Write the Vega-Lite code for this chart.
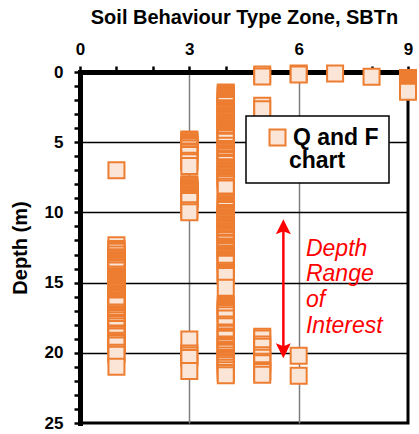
{
  "$schema": "https://vega.github.io/schema/vega-lite/v6.json",
  "width": 328,
  "height": 351,
  "autosize": {"type": "none"},
  "padding": {"left": 80, "top": 72, "right": 11, "bottom": 11},
  "background": "white",
  "config": {
    "view": {"stroke": "black", "strokeWidth": 3},
    "axis": {
      "labelFont": "Liberation Sans",
      "labelFontWeight": "bold",
      "labelFontSize": 17,
      "labelColor": "black",
      "titleFont": "Liberation Sans",
      "titleFontWeight": "bold",
      "titleFontSize": 20,
      "titleColor": "black",
      "domainColor": "black",
      "domainWidth": 5,
      "domainCap": "square",
      "tickColor": "black",
      "tickWidth": 2.5,
      "tickSize": 6,
      "labelFlush": false,
      "labelOverlap": false
    },
    "legend": {"strokeWidth": 1.5}
  },
  "datasets": {
    "qf": [
      {"sbtn": 1, "depth": 7.0},
      {"sbtn": 1, "depth": 12.34}, {"sbtn": 1, "depth": 12.6}, {"sbtn": 1, "depth": 12.7}, {"sbtn": 1, "depth": 12.8},
      {"sbtn": 1, "depth": 13.0}, {"sbtn": 1, "depth": 13.2}, {"sbtn": 1, "depth": 13.3}, {"sbtn": 1, "depth": 13.4},
      {"sbtn": 1, "depth": 13.5}, {"sbtn": 1, "depth": 13.6}, {"sbtn": 1, "depth": 13.7}, {"sbtn": 1, "depth": 13.8},
      {"sbtn": 1, "depth": 13.9}, {"sbtn": 1, "depth": 14.0}, {"sbtn": 1, "depth": 14.14}, {"sbtn": 1, "depth": 14.42},
      {"sbtn": 1, "depth": 14.55}, {"sbtn": 1, "depth": 14.65}, {"sbtn": 1, "depth": 14.75}, {"sbtn": 1, "depth": 14.85},
      {"sbtn": 1, "depth": 14.95}, {"sbtn": 1, "depth": 15.05}, {"sbtn": 1, "depth": 15.15}, {"sbtn": 1, "depth": 15.25},
      {"sbtn": 1, "depth": 15.35}, {"sbtn": 1, "depth": 15.45}, {"sbtn": 1, "depth": 15.55}, {"sbtn": 1, "depth": 15.65},
      {"sbtn": 1, "depth": 15.75}, {"sbtn": 1, "depth": 15.85}, {"sbtn": 1, "depth": 15.95}, {"sbtn": 1, "depth": 16.05},
      {"sbtn": 1, "depth": 16.15}, {"sbtn": 1, "depth": 16.25}, {"sbtn": 1, "depth": 16.35}, {"sbtn": 1, "depth": 16.45},
      {"sbtn": 1, "depth": 16.55}, {"sbtn": 1, "depth": 16.63}, {"sbtn": 1, "depth": 17.13}, {"sbtn": 1, "depth": 17.25},
      {"sbtn": 1, "depth": 17.35}, {"sbtn": 1, "depth": 17.45}, {"sbtn": 1, "depth": 17.55}, {"sbtn": 1, "depth": 17.7},
      {"sbtn": 1, "depth": 17.88}, {"sbtn": 1, "depth": 17.98}, {"sbtn": 1, "depth": 18.13}, {"sbtn": 1, "depth": 18.3},
      {"sbtn": 1, "depth": 18.62}, {"sbtn": 1, "depth": 18.72}, {"sbtn": 1, "depth": 18.84}, {"sbtn": 1, "depth": 19.14},
      {"sbtn": 1, "depth": 19.24}, {"sbtn": 1, "depth": 19.34}, {"sbtn": 1, "depth": 19.48}, {"sbtn": 1, "depth": 20.0},
      {"sbtn": 1, "depth": 20.14}, {"sbtn": 1, "depth": 21.0},

      {"sbtn": 3, "depth": 4.81}, {"sbtn": 3, "depth": 4.9}, {"sbtn": 3, "depth": 5.0}, {"sbtn": 3, "depth": 5.1},
      {"sbtn": 3, "depth": 5.2}, {"sbtn": 3, "depth": 5.3}, {"sbtn": 3, "depth": 5.45}, {"sbtn": 3, "depth": 5.66},
      {"sbtn": 3, "depth": 5.76}, {"sbtn": 3, "depth": 5.91}, {"sbtn": 3, "depth": 6.32}, {"sbtn": 3, "depth": 6.42},
      {"sbtn": 3, "depth": 6.7}, {"sbtn": 3, "depth": 7.99}, {"sbtn": 3, "depth": 8.1}, {"sbtn": 3, "depth": 8.2},
      {"sbtn": 3, "depth": 8.3}, {"sbtn": 3, "depth": 8.4}, {"sbtn": 3, "depth": 8.5}, {"sbtn": 3, "depth": 8.6},
      {"sbtn": 3, "depth": 8.7}, {"sbtn": 3, "depth": 8.8}, {"sbtn": 3, "depth": 8.9}, {"sbtn": 3, "depth": 9.0},
      {"sbtn": 3, "depth": 9.08}, {"sbtn": 3, "depth": 9.19}, {"sbtn": 3, "depth": 9.84}, {"sbtn": 3, "depth": 9.99},
      {"sbtn": 3, "depth": 19.05}, {"sbtn": 3, "depth": 20.05}, {"sbtn": 3, "depth": 20.19}, {"sbtn": 3, "depth": 20.37},
      {"sbtn": 3, "depth": 21.3},

      {"sbtn": 4, "depth": 1.46}, {"sbtn": 4, "depth": 1.56}, {"sbtn": 4, "depth": 1.66}, {"sbtn": 4, "depth": 1.76},
      {"sbtn": 4, "depth": 1.86}, {"sbtn": 4, "depth": 1.96}, {"sbtn": 4, "depth": 2.06}, {"sbtn": 4, "depth": 2.16},
      {"sbtn": 4, "depth": 2.26}, {"sbtn": 4, "depth": 2.35}, {"sbtn": 4, "depth": 2.58}, {"sbtn": 4, "depth": 2.68},
      {"sbtn": 4, "depth": 2.78}, {"sbtn": 4, "depth": 2.88}, {"sbtn": 4, "depth": 2.98}, {"sbtn": 4, "depth": 3.08},
      {"sbtn": 4, "depth": 3.18}, {"sbtn": 4, "depth": 3.28}, {"sbtn": 4, "depth": 3.38}, {"sbtn": 4, "depth": 3.48},
      {"sbtn": 4, "depth": 3.58}, {"sbtn": 4, "depth": 3.68}, {"sbtn": 4, "depth": 3.78}, {"sbtn": 4, "depth": 3.88},
      {"sbtn": 4, "depth": 3.98}, {"sbtn": 4, "depth": 4.08}, {"sbtn": 4, "depth": 4.18}, {"sbtn": 4, "depth": 4.28},
      {"sbtn": 4, "depth": 4.38}, {"sbtn": 4, "depth": 4.48}, {"sbtn": 4, "depth": 4.58}, {"sbtn": 4, "depth": 4.7},
      {"sbtn": 4, "depth": 4.88}, {"sbtn": 4, "depth": 4.96}, {"sbtn": 4, "depth": 5.26}, {"sbtn": 4, "depth": 5.48},
      {"sbtn": 4, "depth": 5.58}, {"sbtn": 4, "depth": 5.68}, {"sbtn": 4, "depth": 5.78}, {"sbtn": 4, "depth": 5.88},
      {"sbtn": 4, "depth": 5.98}, {"sbtn": 4, "depth": 6.15}, {"sbtn": 4, "depth": 6.27}, {"sbtn": 4, "depth": 6.44},
      {"sbtn": 4, "depth": 6.55}, {"sbtn": 4, "depth": 6.79}, {"sbtn": 4, "depth": 6.89}, {"sbtn": 4, "depth": 6.99},
      {"sbtn": 4, "depth": 7.09}, {"sbtn": 4, "depth": 7.19}, {"sbtn": 4, "depth": 7.29}, {"sbtn": 4, "depth": 7.39},
      {"sbtn": 4, "depth": 7.49}, {"sbtn": 4, "depth": 7.59}, {"sbtn": 4, "depth": 7.69}, {"sbtn": 4, "depth": 7.79},
      {"sbtn": 4, "depth": 7.89}, {"sbtn": 4, "depth": 8.0}, {"sbtn": 4, "depth": 8.17}, {"sbtn": 4, "depth": 8.3},
      {"sbtn": 4, "depth": 9.22}, {"sbtn": 4, "depth": 9.32}, {"sbtn": 4, "depth": 9.42}, {"sbtn": 4, "depth": 9.52},
      {"sbtn": 4, "depth": 9.62}, {"sbtn": 4, "depth": 9.72}, {"sbtn": 4, "depth": 9.83}, {"sbtn": 4, "depth": 10.04},
      {"sbtn": 4, "depth": 10.14}, {"sbtn": 4, "depth": 10.24}, {"sbtn": 4, "depth": 10.34}, {"sbtn": 4, "depth": 10.44},
      {"sbtn": 4, "depth": 10.54}, {"sbtn": 4, "depth": 10.64}, {"sbtn": 4, "depth": 10.74}, {"sbtn": 4, "depth": 10.84},
      {"sbtn": 4, "depth": 10.94}, {"sbtn": 4, "depth": 11.04}, {"sbtn": 4, "depth": 11.14}, {"sbtn": 4, "depth": 11.24},
      {"sbtn": 4, "depth": 11.34}, {"sbtn": 4, "depth": 11.44}, {"sbtn": 4, "depth": 11.54}, {"sbtn": 4, "depth": 11.64},
      {"sbtn": 4, "depth": 11.74}, {"sbtn": 4, "depth": 11.84}, {"sbtn": 4, "depth": 11.97}, {"sbtn": 4, "depth": 12.14},
      {"sbtn": 4, "depth": 12.23}, {"sbtn": 4, "depth": 12.43}, {"sbtn": 4, "depth": 12.53}, {"sbtn": 4, "depth": 12.63},
      {"sbtn": 4, "depth": 12.75}, {"sbtn": 4, "depth": 12.93}, {"sbtn": 4, "depth": 13.03}, {"sbtn": 4, "depth": 13.13},
      {"sbtn": 4, "depth": 13.23}, {"sbtn": 4, "depth": 13.33}, {"sbtn": 4, "depth": 13.43}, {"sbtn": 4, "depth": 13.53},
      {"sbtn": 4, "depth": 13.65}, {"sbtn": 4, "depth": 14.16}, {"sbtn": 4, "depth": 14.26}, {"sbtn": 4, "depth": 14.36},
      {"sbtn": 4, "depth": 14.46}, {"sbtn": 4, "depth": 14.53}, {"sbtn": 4, "depth": 15.37}, {"sbtn": 4, "depth": 16.56},
      {"sbtn": 4, "depth": 16.66}, {"sbtn": 4, "depth": 16.76}, {"sbtn": 4, "depth": 16.86}, {"sbtn": 4, "depth": 16.96},
      {"sbtn": 4, "depth": 17.06}, {"sbtn": 4, "depth": 17.16}, {"sbtn": 4, "depth": 17.33}, {"sbtn": 4, "depth": 17.56},
      {"sbtn": 4, "depth": 17.98}, {"sbtn": 4, "depth": 18.11}, {"sbtn": 4, "depth": 18.55}, {"sbtn": 4, "depth": 18.64},
      {"sbtn": 4, "depth": 18.84}, {"sbtn": 4, "depth": 18.94}, {"sbtn": 4, "depth": 19.0}, {"sbtn": 4, "depth": 19.41},
      {"sbtn": 4, "depth": 19.51}, {"sbtn": 4, "depth": 19.59}, {"sbtn": 4, "depth": 19.77}, {"sbtn": 4, "depth": 19.87},
      {"sbtn": 4, "depth": 19.99}, {"sbtn": 4, "depth": 20.19}, {"sbtn": 4, "depth": 20.37}, {"sbtn": 4, "depth": 20.47},
      {"sbtn": 4, "depth": 20.57}, {"sbtn": 4, "depth": 20.67}, {"sbtn": 4, "depth": 20.77}, {"sbtn": 4, "depth": 20.89},
      {"sbtn": 4, "depth": 21.06}, {"sbtn": 4, "depth": 21.25}, {"sbtn": 4, "depth": 21.44}, {"sbtn": 4, "depth": 21.6},

      {"sbtn": 5, "depth": 0.18}, {"sbtn": 5, "depth": 0.32}, {"sbtn": 5, "depth": 2.41}, {"sbtn": 5, "depth": 2.65},
      {"sbtn": 5, "depth": 18.86}, {"sbtn": 5, "depth": 18.98}, {"sbtn": 5, "depth": 19.41}, {"sbtn": 5, "depth": 19.57},
      {"sbtn": 5, "depth": 20.17}, {"sbtn": 5, "depth": 20.36}, {"sbtn": 5, "depth": 20.64}, {"sbtn": 5, "depth": 20.74},
      {"sbtn": 5, "depth": 21.24}, {"sbtn": 5, "depth": 21.36}, {"sbtn": 5, "depth": 21.57},

      {"sbtn": 6, "depth": 0.1}, {"sbtn": 6, "depth": 0.18}, {"sbtn": 6, "depth": 20.21}, {"sbtn": 6, "depth": 21.64},
      {"sbtn": 7, "depth": 0.11},
      {"sbtn": 8, "depth": 0.34},
      {"sbtn": 9, "depth": 0.42}, {"sbtn": 9, "depth": 0.54}, {"sbtn": 9, "depth": 0.64}, {"sbtn": 9, "depth": 0.75},
      {"sbtn": 9, "depth": 0.85}, {"sbtn": 9, "depth": 0.96}, {"sbtn": 9, "depth": 1.07}, {"sbtn": 9, "depth": 1.17},
      {"sbtn": 9, "depth": 1.28}, {"sbtn": 9, "depth": 1.41}
    ],
    "range_shaft": [
      {"sbtn": 5.58, "depth": 11.0, "depth_end": 19.9}
    ],
    "range_heads": [
      {"sbtn": 5.58, "depth": 10.49, "end": "top"},
      {"sbtn": 5.58, "depth": 20.39, "end": "bottom"}
    ],
    "range_note": [
      {"sbtn": 6.2, "depth": 13.07, "label": ["Depth", "Range", "of", "Interest"]}
    ]
  },
  "encoding": {
    "x": {
      "field": "sbtn",
      "type": "quantitative",
      "scale": {"domain": [0, 9], "nice": false, "zero": false},
      "axis": {
        "orient": "top",
        "title": "Soil Behaviour Type Zone, SBTn",
        "values": [0, 1, 2, 3, 4, 5, 6, 7, 8, 9],
        "labelExpr": "datum.value % 3 === 0 ? datum.label : ''",
        "labelPadding": 8,
        "titlePadding": 13,
        "grid": true,
        "gridColor": "#7f7f7f",
        "gridWidth": 1.5,
        "gridOpacity": {"condition": {"test": "datum.value === 3 || datum.value === 6", "value": 1}, "value": 0}
      }
    },
    "y": {
      "field": "depth",
      "type": "quantitative",
      "scale": {"domain": [0, 25], "reverse": true, "nice": false, "zero": false},
      "axis": {
        "title": "Depth (m)",
        "values": [0, 1, 2, 3, 4, 5, 6, 7, 8, 9, 10, 11, 12, 13, 14, 15, 16, 17, 18, 19, 20, 21, 22, 23, 24, 25],
        "labelExpr": "datum.value % 5 === 0 ? datum.label : ''",
        "labelPadding": 11,
        "titlePadding": 14,
        "grid": true,
        "gridColor": "black",
        "gridWidth": 1.5,
        "gridOpacity": {"condition": {"test": "datum.value % 5 === 0 && datum.value > 0 && datum.value < 25", "value": 1}, "value": 0}
      }
    }
  },
  "layer": [
    {
      "data": {"name": "qf"},
      "mark": {
        "type": "point",
        "shape": "square",
        "filled": true,
        "size": 256,
        "stroke": "#ED7D31",
        "strokeWidth": 2,
        "opacity": 1
      },
      "encoding": {
        "fill": {
          "datum": "Q and F",
          "type": "nominal",
          "scale": {"range": ["#FBE5D6"]},
          "legend": {
            "orient": "none",
            "legendX": 166,
            "legendY": 44,
            "title": "chart",
            "titleOrient": "bottom",
            "titleAnchor": "middle",
            "titleFont": "Liberation Sans",
            "titleFontWeight": "bold",
            "titleFontSize": 23,
            "titleColor": "black",
            "titlePadding": 0,
            "padding": 10,
            "strokeColor": "black",
            "fillColor": "white",
            "symbolType": "square",
            "symbolSize": 256,
            "symbolStrokeColor": "#ED7D31",
            "symbolStrokeWidth": 2,
            "symbolOffset": 10,
            "labelFont": "Liberation Sans",
            "labelFontWeight": "bold",
            "labelFontSize": 23,
            "labelColor": "black",
            "labelOffset": 4,
            "labelLimit": 300
          }
        }
      }
    },
    {
      "data": {"name": "range_shaft"},
      "mark": {"type": "rule", "color": "#FF0000", "strokeWidth": 2.5},
      "encoding": {
        "y2": {"field": "depth_end"}
      }
    },
    {
      "data": {"name": "range_heads"},
      "mark": {"type": "point", "filled": true, "size": 225, "color": "#FF0000", "opacity": 1},
      "encoding": {
        "shape": {
          "field": "end",
          "type": "nominal",
          "scale": {
            "domain": ["top", "bottom"],
            "range": ["M0,0L1,2L0,1.6L-1,2Z", "M0,0L1,-2L0,-1.6L-1,-2Z"]
          },
          "legend": null
        }
      }
    },
    {
      "data": {"name": "range_note"},
      "mark": {
        "type": "text",
        "align": "left",
        "baseline": "alphabetic",
        "lineHeight": 25.7,
        "font": "Liberation Sans",
        "fontStyle": "italic",
        "fontSize": 23,
        "color": "#FF0000"
      },
      "encoding": {
        "text": {"field": "label"}
      }
    }
  ]
}
